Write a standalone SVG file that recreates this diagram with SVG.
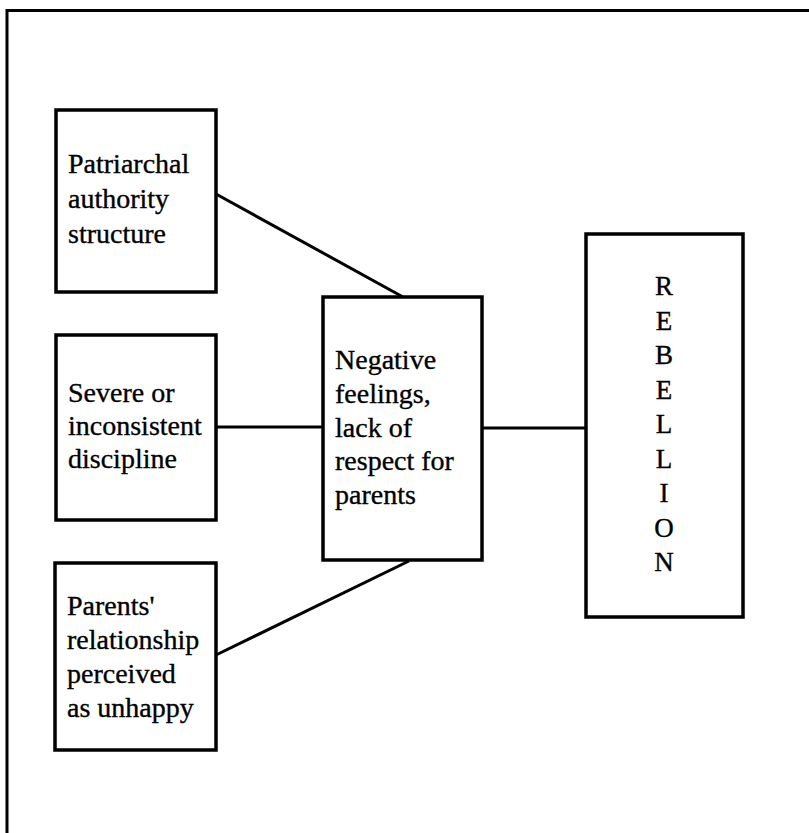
<svg xmlns="http://www.w3.org/2000/svg" width="809" height="833" viewBox="0 0 809 833">
  <style>
    .box { fill: #ffffff; stroke: #000000; stroke-width: 3.5; }
    .frame { fill: none; stroke: #000000; stroke-width: 3; }
    .link { fill: none; stroke: #000000; stroke-width: 3; }
    .label { font-family: "Liberation Serif", "Times New Roman", serif; font-size: 28px; fill: #000000; stroke: #000000; stroke-width: 0.35; }
    .letter { font-family: "Liberation Serif", "Times New Roman", serif; font-size: 27px; fill: #000000; stroke: #000000; stroke-width: 0.35; text-anchor: middle; }
  </style>
  <rect width="809" height="833" fill="#ffffff"/>

  <!-- outer frame (runs past the right and bottom edges) -->
  <path class="frame" d="M7,833 V10.5 H809"/>

  <!-- connectors -->
  <g id="connectors">
    <line class="link" x1="216" y1="194" x2="403" y2="297"/>
    <line class="link" x1="216" y1="427" x2="323" y2="427"/>
    <line class="link" x1="216" y1="655" x2="409" y2="561"/>
    <line class="link" x1="482" y1="428" x2="586" y2="428"/>
  </g>

  <g id="patriarchal">
    <rect class="box" x="56" y="110" width="160" height="182"/>
    <text class="label" x="68" y="173">Patriarchal</text>
    <text class="label" x="68" y="208">authority</text>
    <text class="label" x="68" y="243">structure</text>
  </g>

  <g id="discipline">
    <rect class="box" x="56" y="335" width="160" height="185"/>
    <text class="label" x="68" y="402">Severe or</text>
    <text class="label" x="68" y="435">inconsistent</text>
    <text class="label" x="68" y="468">discipline</text>
  </g>

  <g id="parents-relationship">
    <rect class="box" x="55" y="563" width="161" height="187"/>
    <text class="label" x="67" y="615">Parents'</text>
    <text class="label" x="67" y="649">relationship</text>
    <text class="label" x="67" y="683">perceived</text>
    <text class="label" x="67" y="717">as unhappy</text>
  </g>

  <g id="negative-feelings">
    <rect class="box" x="323" y="297" width="159" height="263"/>
    <text class="label" x="335" y="369">Negative</text>
    <text class="label" x="335" y="403">feelings,</text>
    <text class="label" x="335" y="437">lack of</text>
    <text class="label" x="335" y="470">respect for</text>
    <text class="label" x="335" y="504">parents</text>
  </g>

  <g id="rebellion">
    <rect class="box" x="586" y="234" width="157" height="383"/>
    <text class="letter" x="664" y="295">R</text>
    <text class="letter" x="664" y="329.5">E</text>
    <text class="letter" x="664" y="364">B</text>
    <text class="letter" x="664" y="398.5">E</text>
    <text class="letter" x="664" y="433">L</text>
    <text class="letter" x="664" y="467.5">L</text>
    <text class="letter" x="664" y="502">I</text>
    <text class="letter" x="664" y="536.5">O</text>
    <text class="letter" x="664" y="571">N</text>
  </g>
</svg>
